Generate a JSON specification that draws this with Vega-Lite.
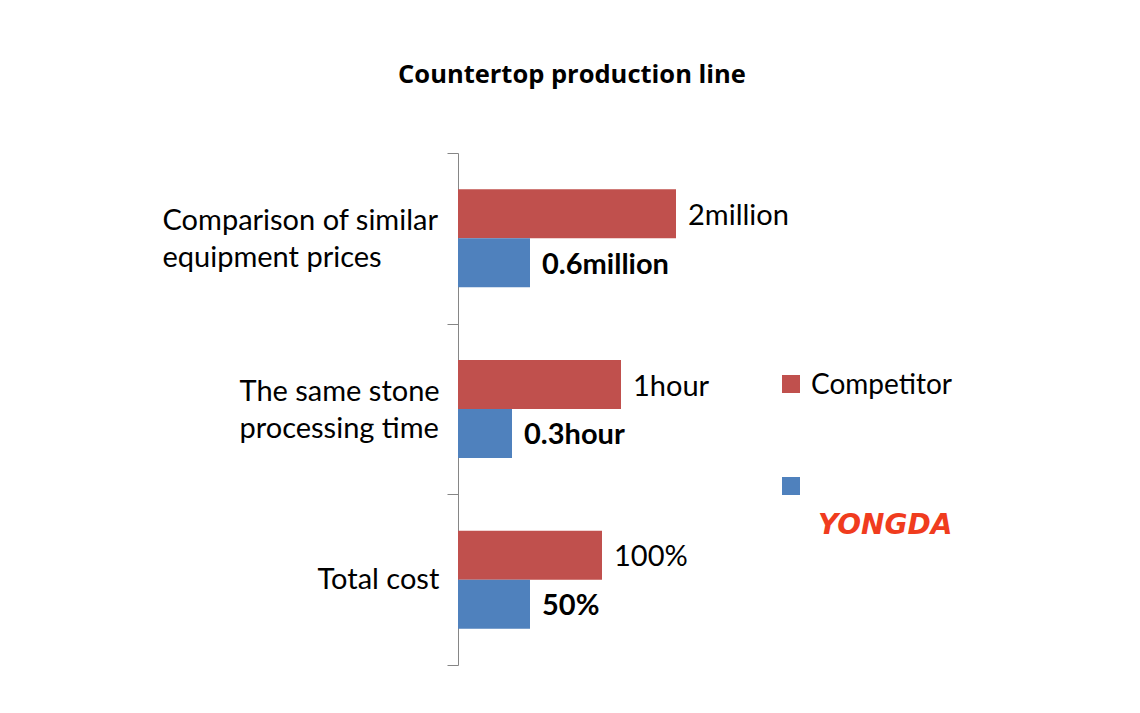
{
  "$schema": "https://vega.github.io/schema/vega-lite/v6.json",
  "width": 228,
  "height": 512,
  "autosize": "none",
  "padding": {"left": 458, "top": 153, "right": 454, "bottom": 48},
  "background": "white",
  "config": {"font": "Lato", "view": {"stroke": null}},
  "title": {"text": "Countertop production line", "font": "Open Sans", "fontSize": 25.5, "fontWeight": "bold", "color": "black", "anchor": "middle", "offset": 51},
  "data": {"values": [
    {"category": "Comparison of similar equipment prices", "series": "Competitor", "value": 218, "label": "2million"},
    {"category": "Comparison of similar equipment prices", "series": "YONGDA", "value": 72, "label": "0.6million"},
    {"category": "The same stone processing time", "series": "Competitor", "value": 163, "label": "1hour"},
    {"category": "The same stone processing time", "series": "YONGDA", "value": 54, "label": "0.3hour"},
    {"category": "Total cost", "series": "Competitor", "value": 144, "label": "100%"},
    {"category": "Total cost", "series": "YONGDA", "value": 72, "label": "50%"}
  ]},
  "encoding": {
    "y": {"field": "category", "type": "nominal", "sort": ["Comparison of similar equipment prices", "The same stone processing time", "Total cost"],
      "scale": {"paddingInner": 0, "paddingOuter": 0},
      "axis": {"title": null, "domainColor": "#868686", "tickColor": "#868686", "tickSize": 11, "tickBand": "extent",
        "labelAlign": "left",
        "labelPadding": {"condition": [
          {"test": "datum.value === 'Comparison of similar equipment prices'", "value": 285},
          {"test": "datum.value === 'The same stone processing time'", "value": 208}
        ], "value": 130},
        "labelOffset": {"condition": {"test": "datum.value !== 'Total cost'", "value": -18}, "value": 0},
        "labelFont": "Lato", "labelFontSize": 29, "labelColor": "black", "labelLineHeight": 37, "labelLimit": 400,
        "labelExpr": "datum.value === 'Comparison of similar equipment prices' ? ['Comparison of similar', 'equipment prices'] : datum.value === 'The same stone processing time' ? ['The same stone', 'processing time'] : datum.value"}},
    "yOffset": {"field": "series", "type": "nominal", "sort": ["Competitor", "YONGDA"], "scale": {"paddingInner": 0, "paddingOuter": 0.742}},
    "x": {"field": "value", "type": "quantitative", "scale": {"domain": [0, 228]}, "axis": null}
  },
  "layer": [
    {
      "mark": {"type": "bar"},
      "encoding": {
        "color": {"field": "series", "type": "nominal", "sort": ["Competitor", "YONGDA"],
          "scale": {"domain": ["Competitor", "YONGDA"], "range": ["#C0504D", "#4F81BD"]},
          "legend": {"title": null, "orient": "none", "legendX": 319, "legendY": 217, "symbolType": "square", "symbolSize": 324, "symbolStrokeWidth": 0,
            "labelFont": "Lato", "labelFontSize": 28, "labelColor": "black", "labelOffset": 6, "rowPadding": 72, "padding": 0,
            "encode": {"labels": {"update": {
              "fill": {"signal": "datum.label === 'YONGDA' ? '#f03c1e' : 'black'"},
              "font": {"signal": "datum.label === 'YONGDA' ? 'DejaVu Sans' : 'Lato'"},
              "fontStyle": {"signal": "datum.label === 'YONGDA' ? 'italic' : 'normal'"},
              "fontWeight": {"signal": "datum.label === 'YONGDA' ? 'bold' : 'normal'"},
              "dy": {"signal": "datum.label === 'YONGDA' ? 40 : 2"},
              "dx": {"signal": "datum.label === 'YONGDA' ? 7 : 0"}
            }}}}
        }
      }
    },
    {
      "transform": [{"filter": "datum.series === 'Competitor'"}],
      "mark": {"type": "text", "align": "left", "baseline": "middle", "dx": 12, "dy": 2, "fontSize": 29, "font": "Lato", "color": "black"},
      "encoding": {"text": {"field": "label"}}
    },
    {
      "transform": [{"filter": "datum.series === 'YONGDA'"}],
      "mark": {"type": "text", "align": "left", "baseline": "middle", "dx": 12, "dy": 2, "fontSize": 29, "font": "Lato", "fontWeight": "bold", "color": "black"},
      "encoding": {"text": {"field": "label"}}
    }
  ]
}
